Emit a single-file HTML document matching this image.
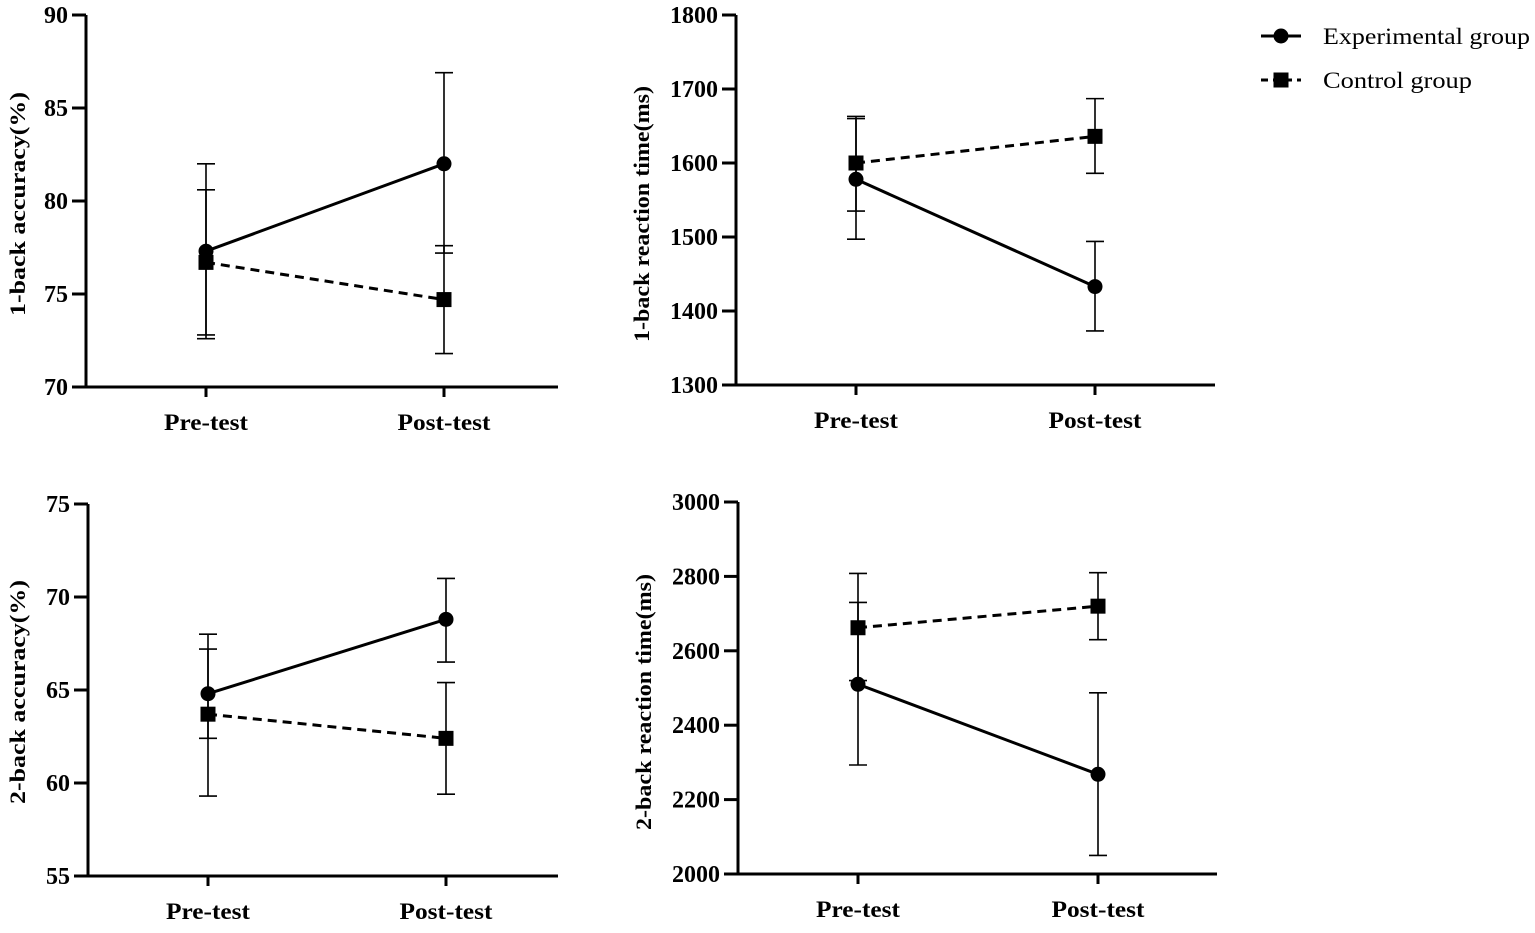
<!DOCTYPE html>
<html><head><meta charset="utf-8">
<style>
html,body{margin:0;padding:0;background:#fff;}
svg text{font-family:"Liberation Serif",serif;fill:#000;}
</style></head>
<body>
<svg id="chart" width="1535" height="928" xmlns="http://www.w3.org/2000/svg"></svg>
<script>
const categories = ["Pre-test","Post-test"];
// panel 1: 1-back accuracy
const p1Exp = [77.3, 82.0], p1ExpLo = [72.6, 77.2], p1ExpHi = [82.0, 86.9];
const p1Ctl = [76.7, 74.7], p1CtlLo = [72.8, 71.8], p1CtlHi = [80.6, 77.6];
const p1Ticks = [70, 75, 80, 85, 90];
// panel 2: 1-back RT
const p2Exp = [1578, 1433], p2ExpLo = [1497, 1373], p2ExpHi = [1660, 1494];
const p2Ctl = [1600, 1636], p2CtlLo = [1535, 1586], p2CtlHi = [1663, 1687];
const p2Ticks = [1300, 1400, 1500, 1600, 1700, 1800];
// panel 3: 2-back accuracy
const p3Exp = [64.8, 68.8], p3ExpLo = [62.4, 66.5], p3ExpHi = [68.0, 71.0];
const p3Ctl = [63.7, 62.4], p3CtlLo = [59.3, 59.4], p3CtlHi = [67.2, 65.4];
const p3Ticks = [55, 60, 65, 70, 75];
// panel 4: 2-back RT
const p4Exp = [2510, 2268], p4ExpLo = [2293, 2050], p4ExpHi = [2730, 2487];
const p4Ctl = [2662, 2720], p4CtlLo = [2520, 2630], p4CtlHi = [2808, 2810];
const p4Ticks = [2000, 2200, 2400, 2600, 2800, 3000];

const NS = "http://www.w3.org/2000/svg";
const svg = document.getElementById("chart");
const catWidths = [84, 93];
function mk(tag, attrs, parent, txt){
  const e = document.createElementNS(NS, tag);
  for (const k in attrs) e.setAttribute(k, attrs[k]);
  if (txt !== undefined) e.textContent = txt;
  (parent || svg).appendChild(e);
  return e;
}
function panel(cfg){
  const g = mk("g", {});
  
  
  const min = cfg.ticks[0], max = cfg.ticks[cfg.ticks.length-1];
  const y = v => cfg.yBot - (v - min) / (max - min) * (cfg.yBot - cfg.yTop);
  const x = i => cfg.xs[i];
  const ax = mk("path", {d:`M${cfg.x0} ${cfg.yTop}V${cfg.yBot}H${cfg.x1}`, stroke:"#000","stroke-width":3, fill:"none"}, g);
  
  
  cfg.ticks.forEach(t => {
    mk("line", {x1:cfg.x0-14, x2:cfg.x0, y1:y(t), y2:y(t), stroke:"#000","stroke-width":3}, g);
    const tl = mk("text", {x:cfg.x0-18, y:y(t)+8, "text-anchor":"end","font-size":24,"font-weight":"bold"}, g, t);
    
    
  });
  categories.forEach((c,i) => {
    mk("line", {x1:x(i), x2:x(i), y1:cfg.yBot, y2:cfg.yBot+10, stroke:"#000","stroke-width":3}, g);
    const xl = mk("text", {x:x(i), y:cfg.yBot+43, "text-anchor":"middle","font-size":23,"font-weight":"bold", textLength:catWidths[i], lengthAdjust:"spacingAndGlyphs"}, g, c);
    
    
  });
  const yt = mk("text", {transform:`translate(${cfg.titleX},${cfg.titleC}) rotate(-90)`, "text-anchor":"middle","font-size":22,"font-weight":"bold", textLength:cfg.titleLen, lengthAdjust:"spacingAndGlyphs"}, g, cfg.title);
  
  
  const series = [
    {v:cfg.exp, lo:cfg.expLo, hi:cfg.expHi, dash:null, marker:"circle", name:"experimental"},
    {v:cfg.ctl, lo:cfg.ctlLo, hi:cfg.ctlHi, dash:"9 6", marker:"square", name:"control"}
  ];
  series.forEach(s => {
    s.v.forEach((v,i) => {
      const eb = mk("path", {d:`M${x(i)} ${y(s.lo[i])}V${y(s.hi[i])}M${x(i)-9} ${y(s.lo[i])}h18M${x(i)-9} ${y(s.hi[i])}h18`, stroke:"#000","stroke-width":1.6, fill:"none"}, g);
      
      
    });
    const ln = mk("line", {x1:x(0), y1:y(s.v[0]), x2:x(1), y2:y(s.v[1]), stroke:"#000","stroke-width":3}, g);
    if (s.dash) ln.setAttribute("stroke-dasharray", s.dash);
    
    
    s.v.forEach((v,i) => {
      let m;
      if (s.marker === "circle") m = mk("circle", {cx:x(i), cy:y(v), r:7.5, fill:"#000"}, g);
      else m = mk("rect", {x:x(i)-7.5, y:y(v)-7.5, width:15, height:15, fill:"#000"}, g);
      
      
    });
  });
}
panel({name:"panel-1back-accuracy", x0:86, x1:558, yTop:15, yBot:387, xs:[206,444], ticks:p1Ticks, title:"1-back accuracy(%)", titleX:25, titleC:204, titleLen:224,
  exp:p1Exp, expLo:p1ExpLo, expHi:p1ExpHi, ctl:p1Ctl, ctlLo:p1CtlLo, ctlHi:p1CtlHi});
panel({name:"panel-1back-rt", x0:736, x1:1215, yTop:15, yBot:385, xs:[856,1095], ticks:p2Ticks, title:"1-back reaction time(ms)", titleX:649, titleC:214, titleLen:256,
  exp:p2Exp, expLo:p2ExpLo, expHi:p2ExpHi, ctl:p2Ctl, ctlLo:p2CtlLo, ctlHi:p2CtlHi});
panel({name:"panel-2back-accuracy", x0:88, x1:558, yTop:504, yBot:876, xs:[208,446], ticks:p3Ticks, title:"2-back accuracy(%)", titleX:25, titleC:692, titleLen:224,
  exp:p3Exp, expLo:p3ExpLo, expHi:p3ExpHi, ctl:p3Ctl, ctlLo:p3CtlLo, ctlHi:p3CtlHi});
panel({name:"panel-2back-rt", x0:738, x1:1217, yTop:502, yBot:874, xs:[858,1098], ticks:p4Ticks, title:"2-back reaction time(ms)", titleX:651, titleC:702, titleLen:256,
  exp:p4Exp, expLo:p4ExpLo, expHi:p4ExpHi, ctl:p4Ctl, ctlLo:p4CtlLo, ctlHi:p4CtlHi});

const lg = mk("g", {});


mk("line", {x1:1261, x2:1301, y1:36, y2:36, stroke:"#000","stroke-width":3}, lg);
mk("circle", {cx:1281, cy:36, r:7.5, fill:"#000"}, lg);
const l1 = mk("text", {x:1323, y:44, "font-size":23, textLength:207, lengthAdjust:"spacingAndGlyphs"}, lg, "Experimental group");


mk("line", {x1:1261, x2:1301, y1:80, y2:80, stroke:"#000","stroke-width":3,"stroke-dasharray":"7 5"}, lg);
mk("rect", {x:1273.5, y:72.5, width:15, height:15, fill:"#000"}, lg);
const l2 = mk("text", {x:1323, y:88, "font-size":23, textLength:149, lengthAdjust:"spacingAndGlyphs"}, lg, "Control group");


</script>
</body></html>
